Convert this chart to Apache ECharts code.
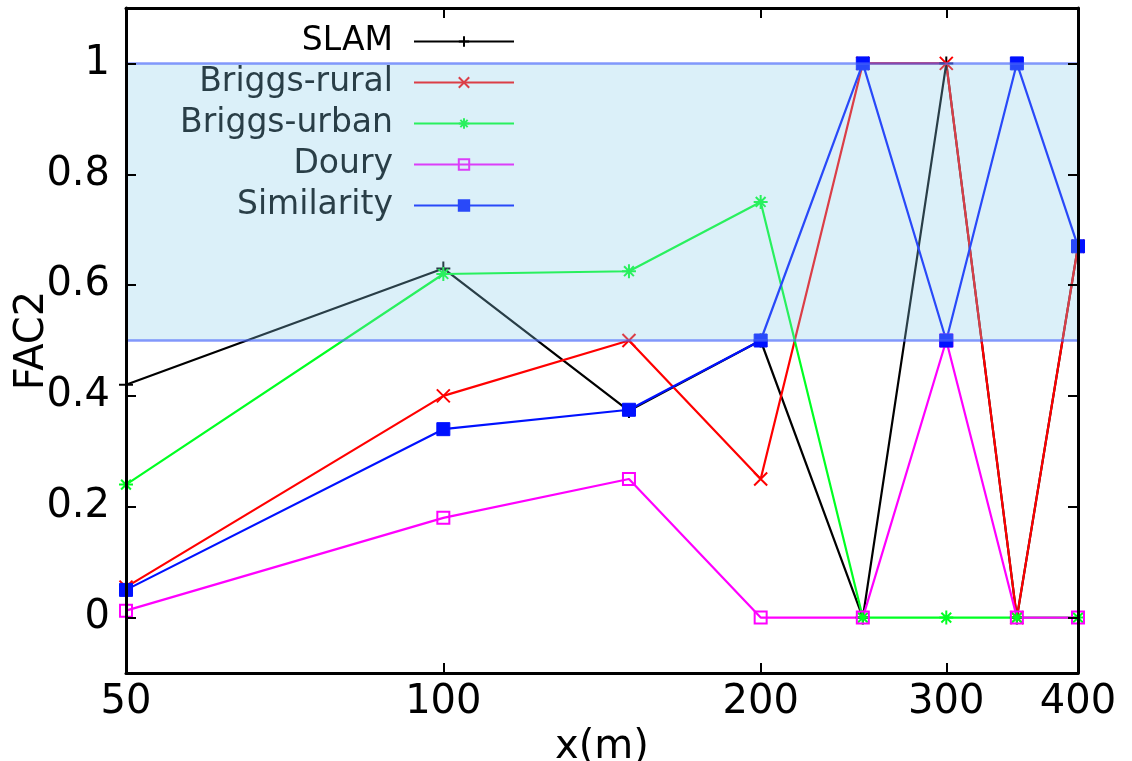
<!DOCTYPE html>
<html>
<head>
<meta charset="utf-8">
<script src="https://cdn.jsdelivr.net/npm/echarts@6/dist/echarts.min.js"></script>
<style>
  html, body { margin: 0; padding: 0; background: #fff; }
  #chart { width: 1132px; height: 761px; }
</style>
</head>
<body>
<div id="chart"></div>
<script>
// distances along x (m), log scale
var xValues = [50, 100, 150, 200, 250, 300, 350, 400];

// FAC2 per model
var slamData = [0.42, 0.63, 0.373, 0.5, 0, 1, 0, 0.67];
var ruralData = [0.055, 0.40, 0.50, 0.25, 1, 1, 0, 0.67];
var urbanData = [0.24, 0.62, 0.625, 0.75, 0, 0, 0, 0];
var douryData = [0.0125, 0.18, 0.25, 0, 0, 0.5, 0, 0];
var similarityData = [0.05, 0.34, 0.375, 0.5, 1, 0.5, 1, 0.67];

var seriesNames = ['SLAM', 'Briggs-rural', 'Briggs-urban', 'Doury', 'Similarity'];
var xLabelValues = [50, 100, 200, 300, 400];
var xTickValues = [100, 200, 300];
var yTickValues = [0, 0.2, 0.4, 0.6, 0.8, 1];
var bandRange = [0.5, 1];

var FONT = 'DejaVu Sans';

function pairs(ys) {
  return xValues.map(function (x, i) { return [x, ys[i]]; });
}

function mkSeries(name, ys, color, symbol, size, stroke) {
  return {
    name: name,
    type: 'line',
    data: pairs(ys),
    symbol: symbol,
    symbolSize: size,
    showAllSymbol: true,
    clip: false,
    z: 2,
    lineStyle: { color: color, width: 2.2 },
    itemStyle: stroke
      ? { color: 'none', borderColor: color, borderWidth: 2 }
      : { color: color, borderColor: color, borderWidth: 1 },
    emphasis: { disabled: true },
    animation: false
  };
}

var chart = echarts.init(document.getElementById('chart'));

function xAxisCfg(pos, labels) {
  return {
    type: 'log',
    logBase: 10,
    position: pos,
    min: 50,
    max: 400,
    z: 20,
    axisLine: { show: true, onZero: false, lineStyle: { color: '#000', width: 3 } },
    axisTick: { show: true, inside: true, length: 10, customValues: xTickValues,
                lineStyle: { color: '#000', width: 2 } },
    axisLabel: labels
      ? { show: true, customValues: xLabelValues, fontSize: 40, fontFamily: FONT, color: '#000', margin: 10 }
      : { show: false },
    splitLine: { show: false },
    minorTick: { show: false },
    name: labels ? 'x(m)' : '',
    nameLocation: 'middle',
    nameGap: 49,
    nameTextStyle: { fontSize: 40, fontFamily: FONT, color: '#000' }
  };
}

function yAxisCfg(pos, labels) {
  return {
    type: 'value',
    position: pos,
    min: -0.1,
    max: 1.1,
    z: 20,
    axisLine: { show: true, onZero: false, lineStyle: { color: '#000', width: 3 } },
    axisTick: { show: true, inside: true, length: 10, customValues: yTickValues,
                lineStyle: { color: '#000', width: 2 } },
    axisLabel: labels
      ? { show: true, customValues: yTickValues, fontSize: 40, fontFamily: FONT, color: '#000', margin: 16 }
      : { show: false },
    splitLine: { show: false },
    name: labels ? 'FAC2' : '',
    nameLocation: 'middle',
    nameGap: 73,
    nameMoveOverlap: false,
    nameTextStyle: { fontSize: 40, fontFamily: FONT, color: '#000' }
  };
}

var option = {
  backgroundColor: '#fff',
  animation: false,
  grid: { left: 126, right: 54, top: 8, bottom: 88, containLabel: false, outerBoundsMode: 'none' },
  legend: {
    data: seriesNames,
    orient: 'vertical',
    align: 'right',
    right: 612,
    top: 20,
    itemWidth: 100,
    itemHeight: 13,
    itemGap: 8,
    textStyle: { fontSize: 33, fontFamily: FONT, color: '#000', padding: [0, 16, 0, 0] },
    selectedMode: false
  },
  xAxis: [xAxisCfg('bottom', true), xAxisCfg('top', false)],
  yAxis: [yAxisCfg('left', true), yAxisCfg('right', false)],
  series: [
    mkSeries('SLAM', slamData, '#000000', 'path://M5,0L5,10M0,5L10,5', 14, true),
    mkSeries('Briggs-rural', ruralData, '#ff0000', 'path://M0,0L10,10M10,0L0,10', 13, true),
    mkSeries('Briggs-urban', urbanData, '#00ff22',
      'path://M5,0L5,10M0,5L10,5M1.5,1.5L8.5,8.5M8.5,1.5L1.5,8.5', 14, true),
    mkSeries('Doury', douryData, '#ff00ff', 'rect', 12, true),
    mkSeries('Similarity', similarityData, '#0011ff', 'rect', 13, false),
    {
      name: 'band',
      type: 'line',
      data: [],
      z: 10,
      markArea: {
        z: 10,
        silent: true,
        itemStyle: { color: 'rgba(135,206,235,0.3)' },
        data: [[{ yAxis: bandRange[0] }, { yAxis: bandRange[1] }]]
      },
      markLine: {
        z: 11,
        silent: true,
        symbol: 'none',
        label: { show: false },
        lineStyle: { color: 'rgba(70,100,250,0.65)', width: 2.5, type: 'solid' },
        data: [{ yAxis: bandRange[0] }, { yAxis: bandRange[1] }]
      }
    }
  ]
};

chart.setOption(option);
</script>
</body>
</html>
